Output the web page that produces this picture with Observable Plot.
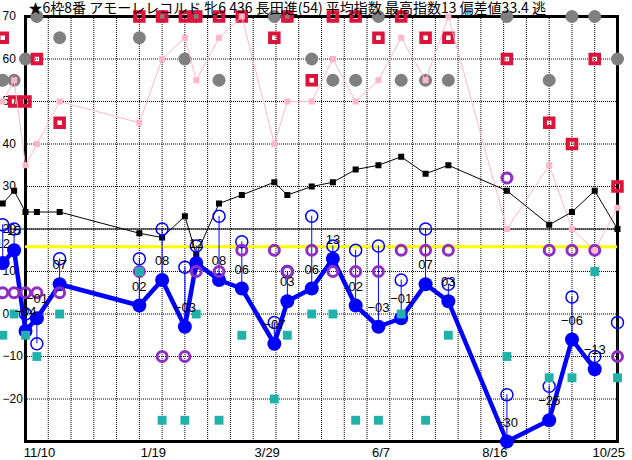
<!DOCTYPE html>
<html>
<head>
<meta charset="utf-8">
<script src="https://cdn.jsdelivr.net/npm/d3@7"></script>
<script src="https://cdn.jsdelivr.net/npm/@observablehq/plot@0.6"></script>
<style>
  body { margin: 0; background: #fff; }
</style>
</head>
<body>
<div id="chart"></div>
<script>
// Horse form chart: one column per race, several index series per race.
const title = "★6枠8番 アモーレレコルド 牝6 436 長田進(54) 平均指数 最高指数13 偏差値33.4 逃";

const raceDates = [
  "2019-10-27", "2019-11-03", "2019-11-10", "2019-11-17", "2019-12-01",
  "2020-01-19", "2020-02-02", "2020-02-16", "2020-02-23", "2020-03-08",
  "2020-03-22", "2020-04-11", "2020-04-19", "2020-05-04", "2020-05-17",
  "2020-05-31", "2020-06-14", "2020-06-28", "2020-07-13", "2020-07-27",
  "2020-09-01", "2020-09-27", "2020-10-11", "2020-10-25", "2020-11-08"
];

// race index (thick blue line); the last race is not run yet
const raceIndex = [12, 15, -4, -1, 7, 2, 8, -3, 12, 8, 6, -7, 3, 6, 13, 2, -3, -1, 7, 3, -30, -25, -6, -13, null];
// potential index (hollow blue circles)
const potentialIndex = [21, 20, 0, -7, 13, 13, 20, 11, 16, 23, 17, -2, 10, 23, 16, 15, 16, 8, 20, 7, -19, -17, 4, -10, -2];
// purple rings
const paceIndex = [5, 5, 5, 5, 5, 10, -10, -10, 10, 10, 15, 15, 10, 15, 10, 10, 10, 15, 15, 15, 32, 15, 15, 15, -10];
// teal squares
const lateIndex = [-5, 0, -5, -10, 0, 10, -25, -25, 0, -25, -5, -20, -5, 0, 0, -25, -25, 0, -25, -5, -10, -15, -15, 10, -15];
// grey circles
const fieldSize = [55, 55, 60, 70, 65, 65, 70, 60, 70, 55, null, 70, 70, 60, 55, 55, 70, 55, 55, 55, 70, 55, 70, 70, 60];
// crimson hollow squares
const finishPos = [65, 50, 50, 60, 45, 70, 70, 70, 70, 70, 70, 65, 70, 55, 70, 70, 65, 70, 65, 65, 60, 45, 40, 60, 30];
// pink squares and line
const popularity = [50, 55, 35, 40, 50, 45, 60, 65, 55, 65, 70, 40, 50, 50, 60, 50, 55, 65, 55, 70, 20, 35, 20, 15, 25];
// black squares and line
const classLevel = [26, 29, 24, 24, 24, 19, 18, 23, 14, 26, 28, 31, 28, 30, 31, 34, 35, 37, 33, 35, 29, 21, 24, 29, 20];

const averageIndex = 15.8;

const axisLabelDates = ["2019-11-10", "2020-01-19", "2020-03-29", "2020-06-07", "2020-08-16", "2020-10-25"];
const yTicks = [-20, -10, 0, 10, 20, 30, 40, 50, 60, 70];
const yDomain = [-30, 70];

const parse = d3.utcParse("%Y-%m-%d");
const races = raceDates.map((d, i) => ({
  date: parse(d),
  index: raceIndex[i],
  potential: potentialIndex[i],
  pace: paceIndex[i],
  late: lateIndex[i],
  field: fieldSize[i],
  finish: finishPos[i],
  pop: popularity[i],
  level: classLevel[i]
}));

const xStart = parse("2019-11-10");
const xEnd = d3.utcDay.offset(xStart, 364);
const gridDates = d3.range(1, 26).map(k => d3.utcDay.offset(xStart, 14 * k));
const ran = races.filter(d => d.index != null);
const last = races[races.length - 1];

const fmt = v => (v < 0 ? "\u2212" : "") + String(Math.abs(v)).padStart(2, "0");

const BLUE = "#0000ff";
const PURPLE = "#8e2ec4";
const TEAL = "#20b2aa";
const CRIMSON = "#dc143c";
const PINK = "#ffb6c8";
const GREY = "#808080";

const chart = Plot.plot({
  width: 632,
  height: 460,
  marginLeft: 25,
  marginRight: 15,
  marginTop: 16,
  marginBottom: 19,
  style: { fontFamily: "'Liberation Sans', Arial, sans-serif", fontSize: "12px", background: "#fff", overflow: "visible" },
  x: { type: "utc", domain: [xStart, xEnd] },
  y: { domain: yDomain },
  marks: [
    Plot.gridX({ ticks: gridDates, stroke: "black", strokeOpacity: 1, strokeDasharray: "1,1" }),
    Plot.gridY({ ticks: yTicks.slice(0, -1), stroke: "black", strokeOpacity: 1, strokeDasharray: "1,1" }),
    Plot.axisY({ ticks: yTicks, tickSize: 0, tickPadding: 0, textAnchor: "start", dx: -23, fontSize: 12 }),
    Plot.axisX({ ticks: axisLabelDates.map(parse), tickFormat: d3.utcFormat("%-m/%-d"), tickSize: 0, tickPadding: 6, dx: 14, fontSize: 13 }),
    Plot.frame({ stroke: "black", strokeWidth: 3 }),
    Plot.ruleY([averageIndex], { stroke: "#ffff00", strokeWidth: 3 }),
    Plot.ruleY([{ y: last.level, x1: races[0].date, x2: last.date }], { y: "y", x1: "x1", x2: "x2", stroke: "black", strokeWidth: 1 }),
    Plot.dot(races.filter(d => d.field != null), { x: "date", y: "field", r: 6.5, fill: GREY }),
    Plot.dot(races, { x: "date", y: "finish", symbol: "square", r: 4.8, stroke: CRIMSON, strokeWidth: 4, fill: "none", strokeLinejoin: "miter" }),
    Plot.line(races, { x: "date", y: "pop", stroke: PINK, strokeWidth: 1 }),
    Plot.dot(races, { x: "date", y: "pop", symbol: "square", r: 3.4, fill: PINK }),
    Plot.line(races, { x: "date", y: "level", stroke: "black", strokeWidth: 1 }),
    Plot.dot(races, { x: "date", y: "level", symbol: "square", r: 3.4, fill: "black" }),
    Plot.ruleX(races, { x: "date", y1: "potential", y2: d => d.index ?? yDomain[0], stroke: BLUE, strokeWidth: 1 }),
    Plot.dot(races, { x: "date", y: "potential", r: 6, stroke: BLUE, strokeWidth: 1.5, fill: "none" }),
    Plot.line(ran, { x: "date", y: "index", stroke: BLUE, strokeWidth: 4.5, strokeLinejoin: "round" }),
    Plot.dot(ran, { x: "date", y: "index", r: 7, fill: BLUE }),
    Plot.dot(races, { x: "date", y: "pace", r: 5, stroke: PURPLE, strokeWidth: 3, fill: "none" }),
    Plot.dot(races, { x: "date", y: "late", symbol: "square", r: 5, fill: TEAL }),
    Plot.text(ran, { x: "date", y: "index", text: d => fmt(d.index), dy: -19, fontSize: 13, fill: "black" }),
    Plot.text([title], { frameAnchor: "top-left", dx: 3, dy: -13, lineAnchor: "top", fontSize: 14, textAnchor: "start", fontFamily: "'Noto Sans CJK JP', sans-serif", fill: "black" })
  ]
});

document.getElementById("chart").append(chart);
</script>
</body>
</html>
